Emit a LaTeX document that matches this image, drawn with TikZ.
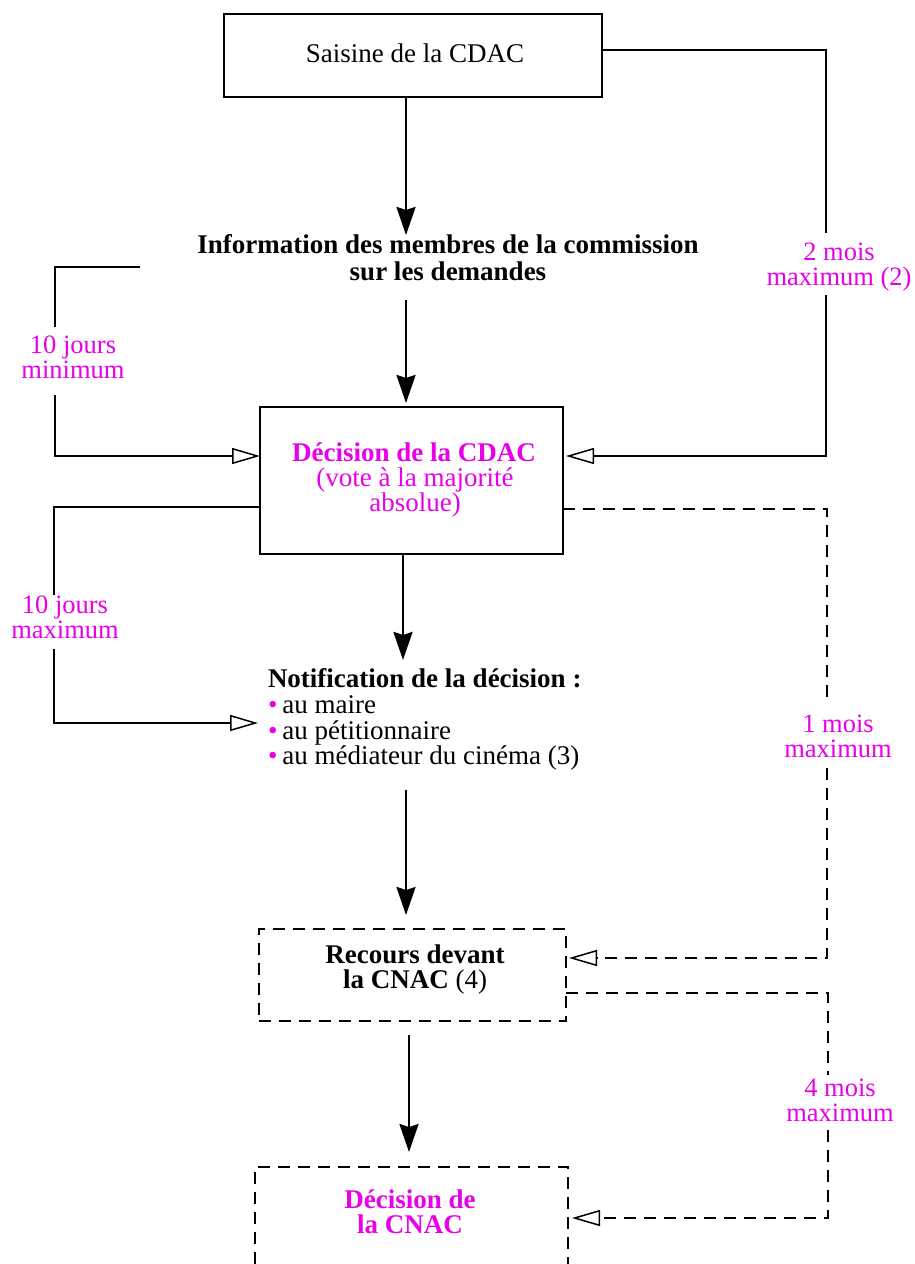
\documentclass[tikz,border=0pt]{standalone}
\usepackage{fontspec}
\setmainfont{Liberation Serif}
\usetikzlibrary{arrows.meta,calc}
\definecolor{mag}{RGB}{232,0,232}
\begin{document}
\begin{tikzpicture}[x=1pt,y=-1pt,
  every node/.style={inner sep=0pt, outer sep=0pt, font=\fontsize{27}{25}\selectfont},
  txt/.style={anchor=base},
  txtl/.style={anchor=base west},
  lbl/.style={anchor=base, text=mag, align=center, font=\fontsize{26.5}{24.5}\selectfont},
  boxs/.style={draw, line width=2.7pt},
  boxd/.style={line width=2.5pt, dash pattern=on 12pt off 8pt},
  ln/.style={line width=2.5pt},
  dln/.style={line width=2.5pt, dash pattern=on 12pt off 8pt},
  arr/.style={line width=2.5pt, -{Stealth[length=28pt,width=19pt,inset=3pt]}},
  opentip/.style={-{Triangle[open,length=28pt,width=16pt,line width=1.5pt]}}
]
\useasboundingbox (0,0) rectangle (915,1264);

% boxes
\node[boxs, minimum width=378pt, minimum height=83pt] (b1) at (413,55.5) {};
\node[boxs, minimum width=303pt, minimum height=147pt] (b2) at (411.5,480.5) {};
\node[draw, boxd, minimum width=307pt, minimum height=92pt] (b3) at (412.5,975) {};
\node[minimum width=313pt, minimum height=97pt] (b4) at (411.5,1215.5) {};
\draw[boxd] (b4.south west) -- (b4.north west) -- (b4.north east) -- (b4.south east);

% texts
\node[txt] (t1) at (415,62) {Saisine de la CDAC};
\node[txt, font=\fontsize{27}{25}\selectfont\bfseries] (i1) at (448,253) {Information des membres de la commission};
\node[txt, font=\fontsize{27}{25}\selectfont\bfseries] (i2) at (448,280) {sur les demandes};
\node[txt, text=mag, font=\fontsize{27}{25}\selectfont\bfseries] (d1) at (414,461) {Décision de la CDAC};
\node[txt, text=mag] (d2) at (415,486) {(vote à la majorité};
\node[txt, text=mag] (d3) at (415,511) {absolue)};
\node[txtl, font=\fontsize{27}{25}\selectfont\bfseries] (n1) at (268,687) {Notification de la décision :};
\node[txtl] (n2) at (268,713) {\textcolor{mag}{•}\hspace{5pt}au maire};
\node[txtl] (n3) at (268,739) {\textcolor{mag}{•}\hspace{5pt}au pétitionnaire};
\node[txtl] (n4) at (268,764) {\textcolor{mag}{•}\hspace{5pt}au médiateur du cinéma (3)};
\node[txt, font=\fontsize{27}{25}\selectfont\bfseries] (r1) at (415,963) {Recours devant};
\node[txt] (r2) at (415,988) {\textbf{la CNAC} (4)};
\node[txt, text=mag, font=\fontsize{27}{25}\selectfont\bfseries] (e1) at (410,1208) {Décision de};
\node[txt, text=mag, font=\fontsize{27}{25}\selectfont\bfseries] (e2) at (410,1233) {la CNAC};

% labels (base = baseline of the last line)
\node[lbl] (l1) at (73,378) {10 jours\\minimum};
\node[lbl] (l2) at (839,285) {2 mois\\maximum (2)};
\node[lbl] (l3) at (65,638) {10 jours\\maximum};
\node[lbl] (l4) at (838,757) {1 mois\\maximum};
\node[lbl] (l5) at (840,1121) {4 mois\\maximum};

% main vertical arrows
\draw[arr] ($(b1.south)+(-7,0)$) -- ($(i1.base)+(-42,-18)$);
\draw[arr] ($(i2.base)+(-42,20)$) -- ($(b2.north)+(-5.5,-4)$);
\draw[arr] ($(b2.south)+(-8.5,0)$) -- ($(n1.base west)+(135,-27)$);
\draw[arr] ($(n4.base west)+(138,26)$) -- ($(b3.north)+(-6.5,-14)$);
\draw[arr] ($(b3.south)+(-3.5,14)$) -- ($(b4.north)+(-2.5,-15)$);

% free ends and gap ends
\coordinate (L1a) at (140,267);
\coordinate (L1b) at (55,327);
\coordinate (L1c) at (55,395);
\coordinate (R1b) at (826,233);
\coordinate (R1c) at (826,295);
\coordinate (L2b) at (54,595);
\coordinate (L2c) at (54,649);
\coordinate (N0) at (258,723);
\coordinate (R2b) at (827,703);
\coordinate (R2c) at (827,768);
\coordinate (R3b) at (828,1075);
\coordinate (R3c) at (828,1130);

% left bracket 1 (10 jours minimum)
\draw[ln] (L1a) -| (L1b);
\draw[ln, opentip] (L1c) |- ([yshift=24.5pt]b2.west);

% right bracket (2 mois)
\draw[ln] ([yshift=5.5pt]b1.east) -| (R1b);
\draw[ln, opentip] (R1c) |- ([xshift=3pt,yshift=24.5pt]b2.east);

% left bracket 2 (10 jours maximum)
\draw[ln] ([yshift=-26.5pt]b2.west) -| (L2b);
\draw[ln, opentip] (L2c) |- (N0);

% dashed (1 mois)
\draw[dln] ([yshift=-28.5pt]b2.east) -| (R2b);
\draw[dln, opentip] (R2c) |- ([xshift=3pt,yshift=17pt]b3.east);

% dashed (4 mois)
\draw[dln] ([yshift=-18pt]b3.east) -| (R3b);
\draw[dln, opentip] (R3c) |- ([xshift=4pt,yshift=-2.5pt]b4.east);
\end{tikzpicture}
\end{document}
